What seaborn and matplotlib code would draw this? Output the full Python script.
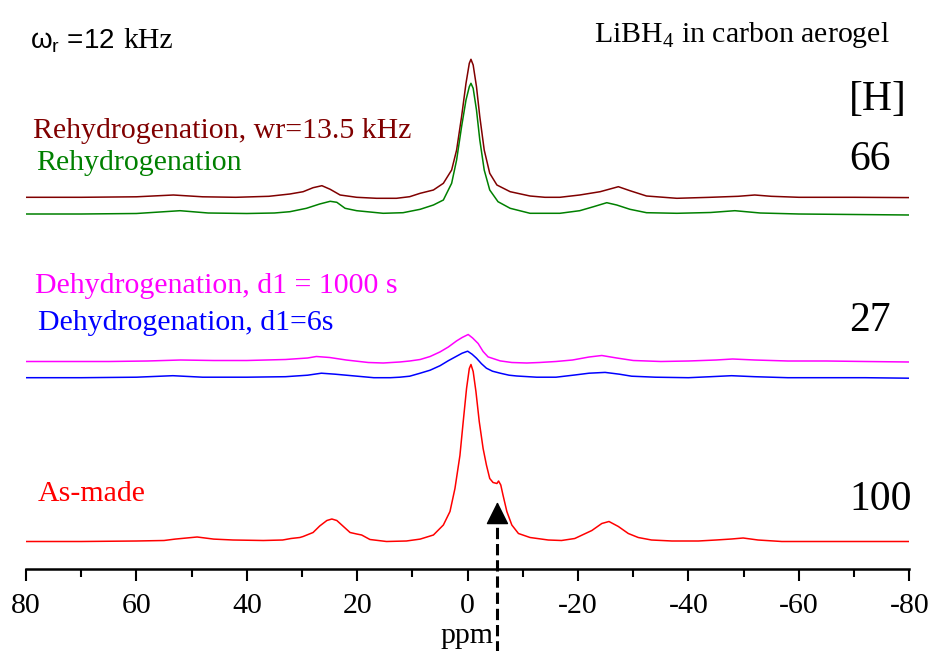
import numpy as np
import pandas as pd
import matplotlib
matplotlib.use("Agg")
import matplotlib.pyplot as plt
import seaborn as sns

# ---------------- data ----------------
series_names = ["Rehydrogenation, wr=13.5 kHz", "Rehydrogenation",
                "Dehydrogenation, d1 = 1000 s", "Dehydrogenation, d1=6s", "As-made"]
series_colors = ["#800000", "#008000", "#FF00FF", "#0000FF", "#FF0000"]
hydrogen_content = ["66", "27", "100"]

rehyd135_ppm = [80, 70, 60, 53.3, 48, 42, 36, 32.2, 29.8, 28.0, 26.4, 24.9, 23.1, 20.1, 16.5, 12.9, 10.5,
                8.6, 6.2, 4.4, 2.9, 2.0, 1.1, 0.3, -0.3, -0.6, -1.0, -1.6, -2.2, -3.0, -4.0, -5.3, -7.7,
                -11.3, -14, -16.7, -20.3, -24.0, -27.3, -29.4, -32.4, -37.9, -44, -49, -52, -55, -60, -70, -80]
rehyd135_int = [0, 0, 0.5, 2.3, 0.5, 0, 1, 3.3, 5.6, 9.6, 11.6, 8, 2.3, 0, -1, -1, 0.6,
                4, 7.3, 14, 27.3, 47.3, 80.6, 114, 134, 138, 132.3, 110.6, 80.6, 47.3, 24, 12.3, 5.6,
                1.3, 0, 0, 2.3, 5.6, 10.6, 6.6, 1.3, -1, 0, 1, 2.3, 1, 0, 0, -0.3]

rehyd_ppm = [80, 70, 60, 52.1, 47, 40, 35, 32.2, 29.2, 26.8, 24.9, 23.7, 22.2, 20.1, 15.3, 11.7,
             8.6, 6.2, 4.4, 2.9, 2.0, 1.1, 0.3, -0.3, -0.6, -1.0, -1.6, -2.2, -3.0, -4.0, -5.5, -7.7,
             -11.3, -16.7, -20.3, -22.8, -25.2, -27.0, -29.4, -32.4, -37.9, -44, -48.4, -53, -60, -70, -80]
rehyd_int = [0, 0, 0.5, 3.3, 1, 0.5, 1, 2.3, 5.7, 10, 12.7, 11.7, 5.7, 3.3, 0.7, 1.3,
             4.7, 9, 14, 30.7, 54, 87.3, 114, 127.3, 130.7, 125.7, 104, 74, 44, 24, 12.3, 5.7,
             0.7, 0.7, 3.3, 7.3, 11.3, 9, 4.7, 1.3, 0.7, 1.5, 3.3, 1, 0, -0.5, -1]

dehyd1000_ppm = [80, 72, 65, 58, 52, 46, 40, 33, 29, 27.4, 25, 22, 18, 15.3, 12.3, 10.5, 8.6, 6.8, 5.0,
                 3.5, 2.0, 1.0, -0.1, -0.9, -1.9, -2.8, -3.7, -5.9, -8, -10.7, -13, -16, -19, -22,
                 -24.3, -27, -30, -35, -40, -45, -48, -52, -58, -65, -72, -80]
dehyd1000_int = [0, 0, 0, 0.5, 1.5, 1, 1, 2, 3.5, 5, 4, 1.5, -1, -1.5, -0.5, 0.5, 2, 5, 9.6,
                 14.5, 20.6, 24, 27, 23.5, 18, 10, 4.6, 0.6, -1, -1.5, -1, 0, 1.5, 4.5,
                 6, 3.5, 1, 0, 0.5, 1.5, 2.5, 1.5, 0.5, 0.5, 0, -0.5]

dehyd6_ppm = [80, 70, 60, 53.4, 48, 40, 33, 29, 26.5, 24, 21, 17, 14, 12.3, 10.5, 8.6, 6.8, 5.0, 3.5,
              2.0, 1.0, 0, -0.8, -1.6, -2.5, -3.4, -4.5, -5.9, -7.5, -8.9, -12.5, -16, -19.4, -22,
              -24.9, -27.5, -29.7, -34, -40, -44, -47.8, -52, -58, -65, -72, -80]
dehyd6_int = [0, 0, 0.5, 2, 0.5, 0.5, 1, 2.5, 4.5, 3.5, 2, 0, 0, 0.5, 1.5, 4.5, 7.5, 12, 17,
              21.5, 24.5, 26.5, 23.5, 19.5, 14, 9.5, 6.5, 4.5, 2.5, 1.7, 0.5, 0.5, 2.7, 4.5,
              5.3, 3.5, 1.5, 0.5, 0, 1, 2, 1, 0, 0, 0, -0.5]

asmade_ppm = [80, 70, 60, 55, 53, 49, 46, 42.5, 37, 33.5, 32, 30.4, 29.8, 28.0, 26.8, 25.5, 24.6, 23.7,
              22.5, 21.3, 20.1, 19.2, 17.7, 14.7, 11.1, 8.6, 6.2, 4.4, 3.2, 2.3, 1.4, 0.8, 0.2, -0.3,
              -0.6, -1.0, -1.5, -2.1, -2.8, -3.4, -4.0, -4.6, -5.3, -5.6, -6.0, -6.4, -7.1, -8.0,
              -9.2, -11.3, -14.6, -17, -19.4, -22.5, -24.3, -25.6, -27.3, -29.1, -30.9, -33.3, -37,
              -41.8, -45, -47.8, -49.9, -52.6, -56.9, -65, -72, -80]
asmade_int = [0, 0, 0.5, 1, 2.4, 4.5, 2.4, 1.5, 1, 1.5, 3, 4, 5, 9, 15.5, 21, 22.5, 21,
              15, 9, 7.5, 6.5, 2, 0, 0.5, 2.4, 6.5, 16.5, 30, 53, 86, 120, 153, 173,
              177, 170, 150, 120, 93, 76.5, 63, 59, 58, 60.5, 56.5, 46.5, 30, 16.5,
              8, 4, 1.5, 1, 3, 11, 18, 20, 15, 8, 4, 1.5, 0.5,
              0.5, 1.5, 2.5, 3.5, 1.5, 0, 0, 0, 0]

series_ppm = [rehyd135_ppm, rehyd_ppm, dehyd1000_ppm, dehyd6_ppm, asmade_ppm]
series_int = [rehyd135_int, rehyd_int, dehyd1000_int, dehyd6_int, asmade_int]
# vertical stacking offsets of the spectra
series_offset = [371.7, 355.0, 207.5, 191.3, 27.5]

x_ticks = [80, 60, 40, 20, 0, -20, -40, -60, -80]
x_minor = [70, 50, 30, 10, -10, -30, -50, -70]
arrow_ppm = -5.4

# ---------------- build table ----------------
rows = []
for name, pp, it, off in zip(series_names, series_ppm, series_int, series_offset):
    for p, v in zip(pp, it):
        rows.append((name, p, v + off))
df = pd.DataFrame(rows, columns=["series", "ppm", "y"])

# ---------------- figure ----------------
sns.set_style("white")
plt.rcParams["font.family"] = ["Liberation Serif", "DejaVu Serif"]
plt.rcParams["mathtext.fontset"] = "custom"
plt.rcParams["mathtext.rm"] = "Liberation Serif"
plt.rcParams["mathtext.sf"] = "Liberation Sans"
plt.rcParams["axes.unicode_minus"] = False
plt.rcParams["text.color"] = "black"
plt.rcParams["axes.labelcolor"] = "black"
plt.rcParams["xtick.color"] = "black"
plt.rcParams["xtick.labelcolor"] = "black"

W, H = 931, 651
fig = plt.figure(figsize=(W / 100, H / 100), dpi=100)
ax = fig.add_axes([26 / W, (H - 569) / H, (909.3 - 26) / W, 569 / H])

sns.lineplot(data=df, x="ppm", y="y", hue="series", hue_order=series_names,
             palette=dict(zip(series_names, series_colors)), estimator=None,
             legend=False, lw=1.1, ax=ax)

ax.set_xlim(80, -80)
ax.set_ylim(0, 569)
for s in ["left", "top", "right"]:
    ax.spines[s].set_visible(False)
ax.spines["bottom"].set_linewidth(1.8)
ax.spines["bottom"].set_color("black")
ax.set_yticks([])
ax.set_ylabel("")
ax.set_xticks(x_ticks)
ax.set_xticklabels([str(t) for t in x_ticks])
ax.set_xticks(x_minor, minor=True)
ax.tick_params(axis="x", which="major", direction="out", length=8.6, width=1.5,
               labelsize=21.5, pad=9, bottom=True, color="black", labelcolor="black")
ax.tick_params(axis="x", which="minor", direction="out", length=5.5, width=1.5,
               bottom=True, color="black")
ax.set_xlabel("ppm", fontsize=21.5, va="baseline", color="black")
ax.xaxis.set_label_coords(0.4995, -74 / 569)

# arrow marking the shoulder
ax.plot([arrow_ppm, arrow_ppm], [-90, 48], color="black", lw=2.2, ls="--", clip_on=False)
ax.annotate("", xy=(arrow_ppm, 67), xytext=(arrow_ppm, 46), annotation_clip=False,
            arrowprops=dict(arrowstyle="-|>,head_length=0.72,head_width=0.36", mutation_scale=20,
                            color="black", lw=1.0, shrinkA=0, shrinkB=0))

def ftext(px, py, s, **kw):
    fig.text(px / W, 1 - py / H, s, va="baseline", **kw)

# series labels
label_pos = [(33, 138), (36, 170), (35, 293), (38, 330), (38, 501)]
for name, col, (px, py) in zip(series_names, series_colors, label_pos):
    ftext(px, py, name, color=col, fontsize=21.5, ha="left")

# [H] column
ftext(907, 110, "[H]", fontsize=30, ha="right", color="black")
for val, (px, py) in zip(hydrogen_content, [(891, 170), (891, 331), (912, 510)]):
    ftext(px, py, val, fontsize=30, ha="right", color="black")

ftext(594, 42, r"LiBH$_4$ in carbon aerogel", fontsize=21.5, ha="left", color="black")
ftext(30, 48, r"ω$_{\mathsf{r}}$ =12", fontsize=20, ha="left", color="black",
      family=["Liberation Sans", "DejaVu Sans"])
ftext(123, 48, "kHz", fontsize=21.5, ha="left", color="black")

fig.savefig("out.png", dpi=100)
